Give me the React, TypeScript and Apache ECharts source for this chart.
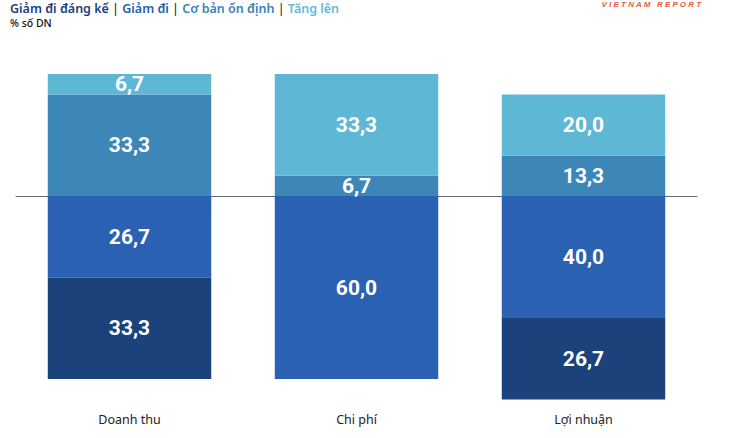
import React, { useEffect, useRef } from "react";
import * as echarts from "echarts";

const categories = ["Doanh thu", "Chi phí", "Lợi nhuận"];
const giamDangKe = [33.3, 0, 26.7];
const giamDi = [26.7, 60.0, 40.0];
const coBanOnDinh = [33.3, 6.7, 13.3];
const tangLen = [6.7, 33.3, 20.0];

const COLORS = {
  giamDangKe: "#1c427c",
  giamDi: "#2a61b3",
  onDinh: "#3c86b8",
  tangLen: "#5fb7d6",
};

const fmt = (v: number) => {
  const a = Math.abs(v);
  return a === 0 ? "" : a.toFixed(1).replace(".", ",");
};

const LF = "'Noto Sans', sans-serif";

export default function App() {
  const ref = useRef<HTMLDivElement>(null);
  useEffect(() => {
    if (!ref.current) return;
    const chart = echarts.init(ref.current, undefined, { renderer: "svg" });
    const label = {
      show: true,
      position: "inside",
      color: "#ffffff",
      fontFamily: "Roboto, sans-serif",
      fontWeight: "bold",
      fontSize: 21,
      formatter: (p: any) => fmt(p.value),
    };
    const mk = (name: string, data: number[], color: string, neg: boolean) => ({
      name,
      type: "bar",
      stack: "total",
      barWidth: "72%",
      data: data.map((v) => (neg ? -v : v)),
      itemStyle: { color },
      label,
      z: 3,
    });
    const rs = (fill: string, w: any) => ({
      fill,
      fontSize: 12.5,
      fontWeight: w,
      fontFamily: LF,
      lineHeight: 14,
    });
    chart.setOption({
      animation: false,
      grid: { left: 16, right: 33, top: 74, bottom: 28.5 },
      xAxis: [
        {
          type: "category",
          data: categories,
          axisLine: { show: false, onZero: false },
          axisTick: { show: false },
          axisLabel: {
            margin: 3,
            fontFamily: LF,
            fontSize: 12.5,
            color: "#222",
          },
        },
        {
          type: "category",
          data: categories,
          position: "bottom",
          axisLine: { show: true, onZero: true, lineStyle: { color: "#666", width: 1 } },
          axisTick: { show: false },
          axisLabel: { show: false },
        },
      ],
      yAxis: {
        type: "value",
        min: -70,
        max: 40,
        show: false,
        splitLine: { show: false },
      },
      series: [
        mk("Giảm đi", giamDi, COLORS.giamDi, true),
        mk("Giảm đi đáng kể", giamDangKe, COLORS.giamDangKe, true),
        mk("Cơ bản ổn định", coBanOnDinh, COLORS.onDinh, false),
        mk("Tăng lên", tangLen, COLORS.tangLen, false),
      ],
      graphic: [
        {
          type: "text",
          left: 10,
          top: 1,
          style: {
            text:
              "{a|Giảm đi đáng kể}{s| | }{b|Giảm đi}{s| | }{c|Cơ bản ổn định}{s| | }{d|Tăng lên}",
            fontFamily: LF,
            fontSize: 12.5,
            fontWeight: 600,
            lineHeight: 14,
            rich: {
              a: rs("#1b3f7c", 600),
              b: rs("#2360b0", 600),
              c: rs("#3a83b6", 600),
              d: rs("#62bad9", 600),
              s: rs("#111", 400),
            },
          },
        },
        {
          type: "text",
          left: 10,
          top: 17,
          style: {
            text: "% số DN",
            fontFamily: LF,
            fontSize: 10.5,
            fontWeight: 500,
            fill: "#111",
          },
        },
        {
          type: "text",
          right: 28,
          top: 0,
          style: {
            text: "V I E T N A M   R E P O R T",
            fontFamily: "'Liberation Sans', sans-serif",
            fontSize: 8,
            fontStyle: "italic",
            fontWeight: "bold",
            fill: "#e85a3f",
          },
        },
      ],
    });
    return () => chart.dispose();
  }, []);
  return (
    <div
      ref={ref}
      style={{ position: "absolute", left: 0, top: 0, width: 730, height: 438, background: "#fff" }}
    />
  );
}
